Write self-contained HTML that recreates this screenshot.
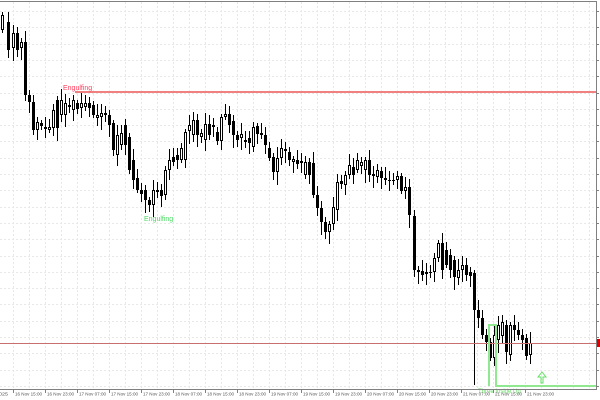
<!DOCTYPE html>
<html><head><meta charset="utf-8"><style>
html,body{margin:0;padding:0;background:#fff;width:600px;height:400px;overflow:hidden}
svg{display:block}
</style></head><body>
<svg id="s" width="600" height="400" xmlns="http://www.w3.org/2000/svg" font-family="Liberation Sans, sans-serif">
<rect width="600" height="400" fill="#fff"/>
<g id="grid" stroke="#e8e8e8" stroke-width="1" stroke-dasharray="2,2"></g>
<g id="candles"></g>
<line x1="75" y1="92" x2="596" y2="92" stroke="#f08080" stroke-width="2"/>
<text x="63" y="90" font-size="7" fill="#ff3c5a">Engulfing</text>
<text x="144" y="221" font-size="7" fill="#4cd964">Engulfing</text>
<line x1="0" y1="343.5" x2="596" y2="343.5" stroke="#c87070" stroke-width="1"/>
<rect x="597" y="339" width="3" height="8" fill="#e00000"/>
<g fill="none" stroke="#90e890" stroke-width="2">
<polyline points="489,386 489,325 496,325 496,386 596,386"/>
</g>
<path d="M541,383 L541,377 L538,377 L542,372 L546,377 L543,377 L543,383 Z" fill="none" stroke="#66dd66" stroke-width="1"/>
<text x="478" y="393" font-size="6" fill="#66dd66">Three Inside Up</text>
<line x1="0" y1="1.5" x2="596" y2="1.5" stroke="#808080"/>
<line x1="596.5" y1="1" x2="596.5" y2="389" stroke="#808080"/>
<line x1="0" y1="389.5" x2="597" y2="389.5" stroke="#808080"/>
<g id="axis" font-size="4.5" fill="#555"></g>
</svg>
<script>
var NS="http://www.w3.org/2000/svg";
function el(t,a,p){var e=document.createElementNS(NS,t);for(var k in a)e.setAttribute(k,a[k]);p.appendChild(e);return e;}
var g=document.getElementById('grid');
for(var x=13;x<596;x+=16)el('line',{x1:x+.5,y1:2,x2:x+.5,y2:389},g);
for(var y=11;y<389;y+=16.3)el('line',{x1:0,y1:Math.round(y)+.5,x2:596,y2:Math.round(y)+.5},g);
var ax=document.getElementById('axis');
for(var y=11;y<389;y+=16.3){el('line',{x1:596,y1:Math.round(y)+.5,x2:599,y2:Math.round(y)+.5,stroke:'#808080'},ax);}
var labs=["16 Nov 15:00","16 Nov 23:00","17 Nov 07:00","17 Nov 15:00","17 Nov 23:00","18 Nov 07:00","18 Nov 15:00","18 Nov 23:00","19 Nov 07:00","19 Nov 15:00","19 Nov 23:00","20 Nov 07:00","20 Nov 15:00","20 Nov 23:00","21 Nov 07:00","21 Nov 15:00","21 Nov 23:00"];
var t=el('text',{x:-1,y:395.5,textLength:9,lengthAdjust:'spacingAndGlyphs'},ax);t.textContent="025";
labs.forEach(function(l,i){var x=13+i*32;el('line',{x1:x+.5,y1:389,x2:x+.5,y2:393,stroke:'#808080'},ax);var t=el('text',{x:x+2,y:395.5,textLength:27,lengthAdjust:'spacingAndGlyphs'},ax);t.textContent=l;});
var d=[[2,15,30,0],[8,22,50,1],[13,33,48,0],[17,33,50,1],[21,42,48,0],[25,42,95,1],[29,95,102,1],[33,102,130,1],[37,122,130,0],[41,123,126,1],[45,127,129,0],[49,127,130,0],[53,110,128,0],[57,100,128,1],[61,100,115,0],[65,103,115,0],[69,105,107,1],[73,100,110,0],[77,103,109,1],[81,103,108,0],[85,103,107,0],[89,103,108,1],[93,105,115,1],[97,115,118,0],[101,113,117,0],[105,113,115,1],[109,115,125,1],[113,123,150,1],[117,135,155,0],[121,133,145,0],[125,125,145,1],[129,137,170,1],[133,160,180,1],[137,178,190,1],[141,190,194,1],[145,190,200,1],[149,200,205,1],[153,190,205,0],[157,190,192,1],[161,190,196,1],[165,170,195,0],[169,160,170,0],[173,157,162,1],[177,155,160,1],[181,148,160,0],[185,132,160,0],[189,125,131,0],[193,120,135,0],[197,120,135,1],[201,133,137,0],[205,124,140,0],[209,124,135,1],[213,125,127,1],[217,132,141,1],[221,117,141,0],[225,114,117,0],[229,114,125,1],[233,121,135,1],[237,135,140,1],[241,134,138,0],[245,140,142,1],[249,138,143,1],[253,127,147,0],[257,126,134,1],[261,133,135,1],[265,135,145,1],[269,148,158,1],[273,157,172,1],[277,158,172,0],[281,148,158,0],[285,149,151,1],[289,152,160,1],[293,159,162,0],[297,160,164,1],[301,161,163,1],[305,162,175,0],[309,162,175,1],[313,163,195,1],[317,195,208,1],[321,208,222,1],[325,222,232,1],[329,224,232,0],[333,207,224,0],[337,182,210,0],[341,181,184,1],[345,175,185,0],[349,165,175,0],[353,167,175,1],[357,160,170,0],[361,162,166,0],[365,160,170,0],[369,160,175,1],[373,174,176,1],[377,170,177,0],[381,171,178,1],[385,178,180,1],[389,180,181,1],[393,180,181,1],[397,176,180,0],[401,176,191,1],[405,187,191,0],[409,187,215,1],[414,216,270,1],[418,270,272,1],[422,271,275,1],[426,272,274,1],[430,272,273,1],[434,258,272,0],[438,243,258,0],[442,243,270,1],[446,250,265,1],[450,255,270,1],[454,260,277,1],[458,270,278,0],[462,265,270,0],[466,265,275,1],[470,272,276,1],[474,273,310,1],[478,310,318,1],[482,318,335,1],[486,335,342,1],[490,342,358,1],[494,335,358,0],[498,325,340,0],[502,322,336,0],[506,325,352,1],[510,325,355,0],[514,325,330,1],[518,330,335,1],[522,335,340,1],[526,338,356,1],[530,343,355,0]];
var c=document.getElementById('candles');
d.forEach(function(a,i){var x=a[0],t=a[1],b=a[2],bl=a[3];var h=3+((i*7)%9),l=3+((i*5)%11);
if(x==474)l=385-b; if(x==29){h=5;}
el('line',{x1:x+.5,y1:t-h,x2:x+.5,y2:b+l,stroke:'#000'},c);
if(b-t<1.5){el('line',{x1:x-1,y1:t+.5,x2:x+2,y2:t+.5,stroke:'#000'},c);}
else el('rect',{x:x-1+.5,y:t+.5,width:2,height:b-t-1,fill:bl?'#000':'#fff',stroke:'#000','stroke-width':1},c);
});
</script>
</body></html>
